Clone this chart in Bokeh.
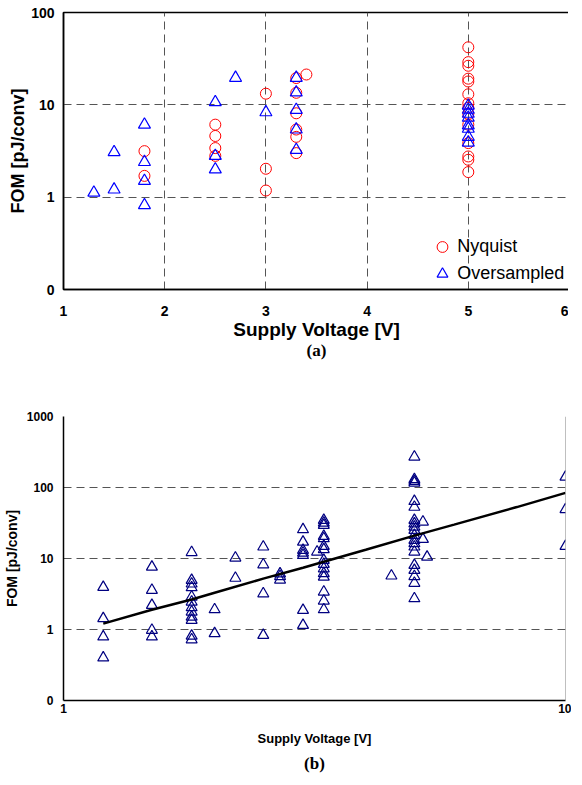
from bokeh.plotting import figure
from bokeh.models import Range1d, FixedTicker, Legend, LegendItem, Title, Span
from bokeh.layouts import column
from bokeh.embed import file_html
from bokeh.resources import INLINE

# ---------------- Chart (a) data ----------------
nyq_v = [1.8, 1.8,
         2.5, 2.5, 2.5, 2.5,
         3.0, 3.0, 3.0,
         3.3, 3.3, 3.3, 3.3, 3.3, 3.3,
         3.4,
         5.0, 5.0, 5.0, 5.0, 5.0, 5.0, 5.0, 5.0, 5.0, 5.0, 5.0, 5.0, 5.0, 5.0]
nyq_fom = [3.15, 1.7,
           6.1, 4.6, 3.4, 2.8,
           13.2, 2.03, 1.18,
           19.5, 13.5, 8.1, 5.4, 4.5, 3.0,
           21.3,
           42.0, 29.0, 26.5, 19.2, 17.9, 13.0, 10.4, 9.3, 8.0, 6.1, 3.85, 2.76, 2.54, 1.87]
ovs_v = [1.3,
         1.5, 1.5,
         1.8, 1.8, 1.8, 1.8,
         2.5, 2.5, 2.5,
         2.7,
         3.0,
         3.3, 3.3, 3.3, 3.3, 3.3,
         5.0, 5.0, 5.0, 5.0, 5.0, 5.0, 5.0, 5.0]
ovs_fom = [1.12,
           3.07, 1.21,
           6.1, 2.4, 1.5, 0.82,
           10.7, 2.8, 2.0,
           19.6,
           8.3,
           19.6, 13.6, 8.8, 5.4, 3.25,
           9.8, 8.85, 8.0, 7.25, 6.0, 5.5, 4.5, 3.9]
a_xticks = [1, 2, 3, 4, 5, 6]
a_yticks = [0.1, 1, 10, 100]
a_ytick_labels = ["0", "1", "10", "100"]

# ---------------- Chart (b) data ----------------
b_v = ([1.2] * 4 + [1.5] * 5 + [1.8] * 12 + [2.0] * 2 + [2.2] * 2 + [2.5] * 4 +
       [2.7] * 3 + [3.0] * 7 + [3.2] + [3.3] * 15 + [4.5] + [5.0] * 20 +
       [5.2] * 2 + [5.3] + [10.0] * 3)
b_fom = [3.94, 1.43, 0.79, 0.40,
         7.6, 3.58, 2.2, 0.98, 0.79,
         12.2, 4.94, 4.4, 3.9, 2.88, 2.45, 2.04, 1.77, 1.5, 1.35, 0.81, 0.72,
         1.91, 0.88,
         10.2, 5.3,
         14.6, 8.2, 3.2, 0.83,
         6.1, 5.6, 5.0,
         25.6, 17.1, 13.1, 12.0, 11.1, 1.87, 1.15,
         12.4,
         34.6, 31.7, 29.4, 20.6, 19.1, 14.9, 13.4, 9.46, 8.3, 7.2, 6.15, 5.5, 3.39, 2.53, 1.91,
         5.7,
         270, 130, 123, 116, 64, 53, 34.6, 30.9, 27.9, 25.0, 21.3, 18.1, 16.3, 14.6, 12.4,
         8.05, 6.84, 5.6, 4.5, 2.73,
         32.8, 18.7,
         10.5,
         141, 49, 14.9]
trend_v = [1.2, 1.5, 1.8, 2.0, 2.5, 3.0, 3.3, 4.0, 5.0, 6.0, 8.0, 10.0]
trend_fom = [1.21, 1.9, 2.65, 3.3, 5.2, 7.4, 9.0, 13.3, 21.0, 30.0, 53.0, 84.0]
b_xticks = [1, 10]
b_xtick_labels = ["1", "10"]
b_yticks = [0.1, 1, 10, 100, 1000]
b_ytick_labels = ["0", "1", "10", "100", "1000"]

SANS = "Liberation Sans"
SERIF = "Liberation Serif"
GRID = "#555555"

# ---------------- Figure (a) ----------------
pa = figure(frame_width=506, frame_height=277, x_range=Range1d(1, 6), y_range=Range1d(0.1, 100),
            y_axis_type="log", output_backend="svg", toolbar_location=None,
            min_border_left=56, min_border_right=4, min_border_top=12, min_border_bottom=79)
pa.outline_line_color = "black"
pa.outline_line_width = 1.5
pa.xgrid.ticker = FixedTicker(ticks=[2, 3, 4, 5])
pa.ygrid.ticker = FixedTicker(ticks=[1, 10])
for g in (pa.xgrid[0], pa.ygrid[0]):
    g.grid_line_color = GRID
    g.grid_line_dash = "8 5"
    g.grid_line_width = 1

pa.xaxis.ticker = FixedTicker(ticks=a_xticks)
pa.yaxis.ticker = FixedTicker(ticks=a_yticks)
pa.yaxis.major_label_overrides = dict(zip(a_yticks, a_ytick_labels))
pa.xaxis.axis_label = "Supply Voltage [V]"
pa.yaxis.axis_label = "FOM [pJ/conv]"
for ax in (pa.xaxis[0], pa.yaxis[0]):
    ax.major_tick_in = 0
    ax.major_tick_out = 0
    ax.minor_tick_in = 0
    ax.minor_tick_out = 0
    ax.axis_line_color = "black"
    ax.axis_line_width = 1.5
    ax.major_label_text_font = SANS
    ax.major_label_text_font_style = "bold"
    ax.major_label_text_font_size = "14px"
    ax.major_label_text_color = "black"
    ax.axis_label_text_font = SANS
    ax.axis_label_text_font_style = "bold"
    ax.axis_label_text_font_size = "18px"
    ax.axis_label_text_color = "black"
pa.xaxis.axis_label_text_font_size = "19px"
pa.xaxis.major_label_standoff = 16
pa.xaxis.axis_label_standoff = 0
pa.yaxis.major_label_standoff = 9
pa.yaxis.axis_label_standoff = 0

ra1 = pa.scatter(nyq_v, nyq_fom, marker="circle", size=11, fill_color=None,
                 line_color="#FF0000", line_width=1)
ra2 = pa.scatter(ovs_v, ovs_fom, marker="triangle", size=12, fill_color=None,
                 line_color="#0000FF", line_width=1.2)

leg = Legend(items=[LegendItem(label="Nyquist", renderers=[ra1]),
                    LegendItem(label="Oversampled", renderers=[ra2])],
             location=(368, 2))
leg.glyph_width = 30
leg.glyph_height = 27
leg.label_height = 27
leg.label_standoff = -3
leg.spacing = 0
leg.padding = 2
leg.margin = 0
leg.border_line_color = None
leg.background_fill_alpha = 0
leg.label_text_font = SANS
leg.label_text_font_size = "18px"
leg.label_text_color = "black"
pa.add_layout(leg)

pa.add_layout(Title(text="(a)", align="center", text_font=SERIF, text_font_size="17px",
                    text_font_style="bold", text_color="black", standoff=-8), "below")

# ---------------- Figure (b) ----------------
pb = figure(frame_width=502, frame_height=284, x_range=Range1d(1, 10), y_range=Range1d(0.1, 1000),
            x_axis_type="log", y_axis_type="log", output_backend="svg", toolbar_location=None,
            min_border_left=58, min_border_right=6, min_border_top=48, min_border_bottom=75)
pb.outline_line_color = None
pb.xgrid.visible = False
pb.ygrid.ticker = FixedTicker(ticks=[1, 10, 100, 1000])
pb.ygrid[0].grid_line_color = GRID
pb.ygrid[0].grid_line_dash = "8 5"
pb.ygrid[0].grid_line_width = 1

pb.xaxis.ticker = FixedTicker(ticks=b_xticks)
pb.xaxis.major_label_overrides = dict(zip(b_xticks, b_xtick_labels))
pb.yaxis.ticker = FixedTicker(ticks=b_yticks)
pb.yaxis.major_label_overrides = dict(zip(b_yticks, b_ytick_labels))
pb.xaxis.axis_label = "Supply Voltage [V]"
pb.yaxis.axis_label = "FOM [pJ/conv]"
for ax in (pb.xaxis[0], pb.yaxis[0]):
    ax.major_tick_in = 0
    ax.major_tick_out = 0
    ax.minor_tick_in = 0
    ax.minor_tick_out = 0
    ax.axis_line_color = "black"
    ax.axis_line_width = 1.5
    ax.major_label_text_font = SANS
    ax.major_label_text_font_style = "bold"
    ax.major_label_text_font_size = "12px"
    ax.major_label_text_color = "black"
    ax.axis_label_text_font = SANS
    ax.axis_label_text_font_style = "bold"
    ax.axis_label_text_color = "black"
pb.xaxis.axis_label_text_font_size = "13px"
pb.yaxis.axis_label_text_font_size = "14px"
pb.xaxis.major_label_standoff = 3
pb.xaxis.axis_label_standoff = 15
pb.yaxis.major_label_standoff = 10
pb.yaxis.axis_label_standoff = 4

pb.add_layout(Span(location=10, dimension="height", line_color="#808080", line_width=1))
pb.scatter(b_v, b_fom, marker="triangle", size=11, fill_color=None,
           line_color="#000080", line_width=1.2)
pb.line(trend_v, trend_fom, line_color="black", line_width=2.5)

pb.add_layout(Title(text="(b)", align="center", text_font=SERIF, text_font_size="17px",
                    text_font_style="bold", text_color="black", standoff=6), "below")

layout = column(pa, pb, spacing=0)
open("out.html", "w").write(file_html(layout, INLINE))
